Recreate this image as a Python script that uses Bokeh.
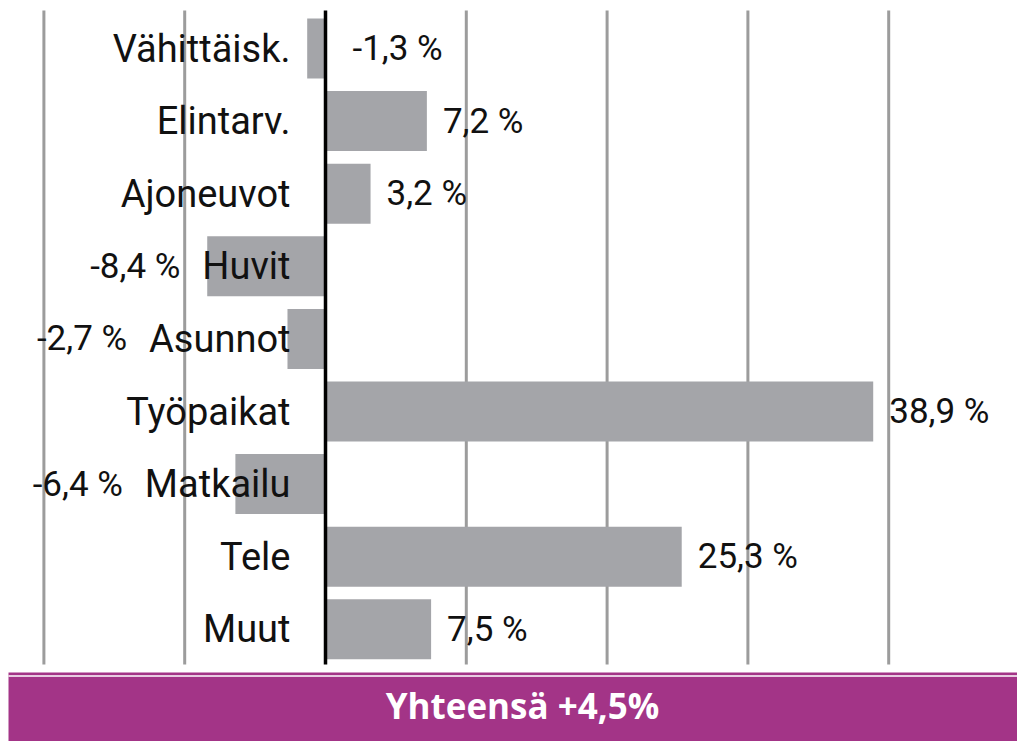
from bokeh.plotting import figure
from bokeh.models import ColumnDataSource, Range1d
from bokeh.core.properties import value
from bokeh.embed import file_html
from bokeh.resources import INLINE

# ---- data ----
categories = ["Vähittäisk.", "Elintarv.", "Ajoneuvot", "Huvit", "Asunnot",
              "Työpaikat", "Matkailu", "Tele", "Muut"]
changes = [-1.3, 7.2, 3.2, -8.4, -2.7, 38.9, -6.4, 25.3, 7.5]
value_labels = ["-1,3 %", "7,2 %", "3,2 %", "-8,4 %", "-2,7 %", "38,9 %", "-6,4 %", "25,3 %", "7,5 %"]
grid_ticks = [-20, -10, 10, 20, 30, 40]
total_label = "Yhteensä +4,5%"

# ---- layout constants ----
W, H = 1017, 741
PX_PER_X = 14.08          # pixels per percentage point
PX_PER_Y = 72.6           # pixels per category step
ZERO_PX = 325             # canvas x of zero
FIRST_PX = 48             # canvas y of first category centre
FONT = "Roboto"
FS_CAT = 38
FS_VAL = 35

x0 = -ZERO_PX / PX_PER_X
x1 = x0 + W / PX_PER_X
n = len(categories)
y_top_val = n - 1
y1 = y_top_val + FIRST_PX / PX_PER_Y
y0 = y1 - H / PX_PER_Y


def cx(px):
    return x0 + px / PX_PER_X


def cy(py):
    return y1 - py / PX_PER_Y


# approximate Roboto advance widths (em) for right-to-left stacking of labels
CW = {' ': .248, '-': .276, ',': .196, '%': .733, '.': .263,
      'A': .652, 'E': .568, 'H': .713, 'M': .873, 'T': .610, 'V': .636,
      'a': .544, 'e': .529, 'i': .243, 'j': .239, 'k': .507, 'l': .243,
      'n': .552, 'o': .570, 'p': .561, 'r': .338, 's': .516, 't': .327,
      'u': .551, 'v': .484, 'y': .473, 'ä': .544, 'ö': .570, 'h': .552}


def text_w(s, fs):
    return sum(CW.get(c, .562) for c in s) * fs


ypos = [y_top_val - i for i in range(n)]
CAT_OFF = -35
vx, voff, valign = [], [], []
for c, v in zip(categories, changes):
    if v >= 0:
        vx.append(v); voff.append(16); valign.append("left")
    elif v > -2:
        vx.append(0); voff.append(27); valign.append("left")
    else:
        vx.append(0); voff.append(CAT_OFF - text_w(c, FS_CAT) - 22); valign.append("right")

src = ColumnDataSource(dict(y=ypos, v=changes, cat=categories, lab=value_labels,
                            vx=vx, voff=voff, valign=valign))

p = figure(width=W, height=H, output_backend="svg", toolbar_location=None,
           x_range=Range1d(x0, x1), y_range=Range1d(y0, y1),
           min_border=0, min_border_left=0, min_border_right=0,
           min_border_top=0, min_border_bottom=0)
p.axis.visible = False
p.grid.visible = False
p.outline_line_color = None
p.background_fill_color = "white"
p.border_fill_color = "white"

g_top = cy(10)
g_bot = cy(664)
p.segment(x0=grid_ticks, x1=grid_ticks, y0=[g_bot] * len(grid_ticks), y1=[g_top] * len(grid_ticks),
          line_color="#9c9c9c", line_width=3)

p.hbar(y="y", left=0, right="v", height=60 / PX_PER_Y, source=src,
       fill_color="#a4a5a9", line_color=None)

p.segment(x0=[0], x1=[0], y0=[g_bot], y1=[g_top], line_color="black", line_width=3.5)

p.text(x=0, y="y", text="cat", source=src, x_offset=CAT_OFF,
       text_align="right", text_baseline="middle",
       text_font=value(FONT), text_font_size=f"{FS_CAT}px", text_color="#111111")
p.text(x="vx", y="y", text="lab", source=src, x_offset="voff",
       text_align="valign", text_baseline="middle",
       text_font=value(FONT), text_font_size=f"{FS_VAL}px", text_color="#111111")

# total banner
p.quad(left=[cx(8)], right=[x1], top=[cy(672)], bottom=[y0], fill_color="#a33487", line_color=None)
p.segment(x0=[cx(8)], x1=[x1], y0=[cy(675.5)], y1=[cy(675.5)], line_color="white", line_width=1.5)
p.text(x=[cx(522)], y=[cy(705)], text=[total_label], text_align="center", text_baseline="middle",
       text_font=value("Open Sans"), text_font_size="35px", text_font_style="bold",
       text_color="white")

open("out.html", "w").write(file_html(p, INLINE))
